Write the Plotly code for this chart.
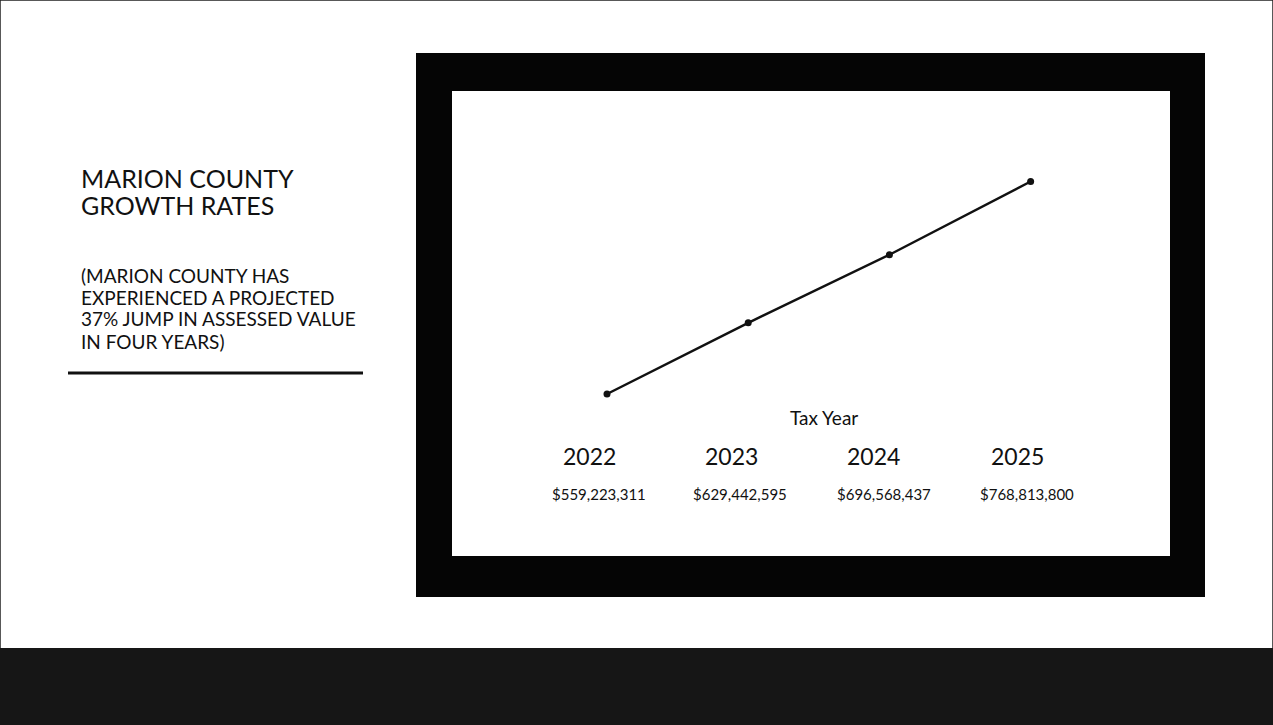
import plotly.graph_objects as go

# ---- data ----
years = ["2022", "2023", "2024", "2025"]
assessed_values = [559223311, 629442595, 696568437, 768813800]
value_labels = ["$559,223,311", "$629,442,595", "$696,568,437", "$768,813,800"]
title_lines = ["MARION COUNTY", "GROWTH RATES"]
subtitle_lines = ["(MARION COUNTY HAS", "EXPERIENCED A PROJECTED",
                  "37% JUMP IN ASSESSED VALUE", "IN FOUR YEARS)"]
axis_title = "Tax Year"

W, H = 1273, 725
FONT = "Lato, 'Open Sans', sans-serif"


def px(x):
    return x / W


def py(y):
    return 1 - y / H


fig = go.Figure()
fig.add_trace(go.Scatter(
    x=list(range(len(years))), y=assessed_values, mode="lines+markers",
    line=dict(color="#111111", width=2.5),
    marker=dict(color="#111111", size=7),
    hoverinfo="skip", showlegend=False))

shapes = [
    # slide border
    dict(type="rect", xref="paper", yref="paper", x0=0, x1=1, y0=0, y1=1,
         line=dict(color="#222222", width=1.5), fillcolor="rgba(0,0,0,0)", layer="below"),
    # black picture frame
    dict(type="rect", xref="paper", yref="paper", x0=px(416), x1=px(1205), y0=py(597), y1=py(53),
         line=dict(width=0), fillcolor="#050505", layer="below"),
    # white chart area
    dict(type="rect", xref="paper", yref="paper", x0=px(452), x1=px(1170), y0=py(556), y1=py(91),
         line=dict(width=0), fillcolor="#ffffff", layer="below"),
    # bottom dark floor strip
    dict(type="rect", xref="paper", yref="paper", x0=0, x1=1, y0=0, y1=py(648),
         line=dict(width=0), fillcolor="#161616", layer="below"),
    # rule under left text
    dict(type="line", xref="paper", yref="paper", x0=px(68), x1=px(363), y0=py(373), y1=py(373),
         line=dict(color="#111111", width=3), layer="below"),
]

ann = []
for t, cy in zip(title_lines, [178, 205]):
    ann.append(dict(text=t, x=px(79), y=py(cy), xref="paper", yref="paper",
                    xanchor="left", yanchor="middle", showarrow=False,
                    font=dict(family=FONT, size=25, color="#111111")))
for t, cy in zip(subtitle_lines, [275, 297, 319, 341]):
    ann.append(dict(text=t, x=px(79), y=py(cy), xref="paper", yref="paper",
                    xanchor="left", yanchor="middle", showarrow=False,
                    font=dict(family=FONT, size=19, color="#111111")))
ann.append(dict(text=axis_title, x=px(824), y=py(418), xref="paper", yref="paper",
                xanchor="center", yanchor="middle", showarrow=False,
                font=dict(family=FONT, size=19, color="#111111")))
year_cx = [589, 731, 873, 1017]
val_cx = [599, 740, 884, 1027]
for t, cx in zip(years, year_cx):
    ann.append(dict(text=t, x=px(cx), y=py(456), xref="paper", yref="paper",
                    xanchor="center", yanchor="middle", showarrow=False,
                    font=dict(family=FONT, size=23, color="#111111")))
for t, cx in zip(value_labels, val_cx):
    ann.append(dict(text=t, x=px(cx), y=py(494), xref="paper", yref="paper",
                    xanchor="center", yanchor="middle", showarrow=False,
                    font=dict(family=FONT, size=15, color="#111111")))

fig.update_layout(
    width=W, height=H, margin=dict(l=0, r=0, t=0, b=0),
    paper_bgcolor="#ffffff", plot_bgcolor="rgba(0,0,0,0)",
    shapes=shapes, annotations=ann, showlegend=False,
    xaxis=dict(domain=[px(452), px(1170)], range=[-1.0977, 3.987],
               visible=False, fixedrange=True),
    yaxis=dict(domain=[py(556), py(91)], range=[399.44e6, 858.07e6],
               visible=False, fixedrange=True),
)

fig.write_html("out.html", config={"displayModeBar": False})
